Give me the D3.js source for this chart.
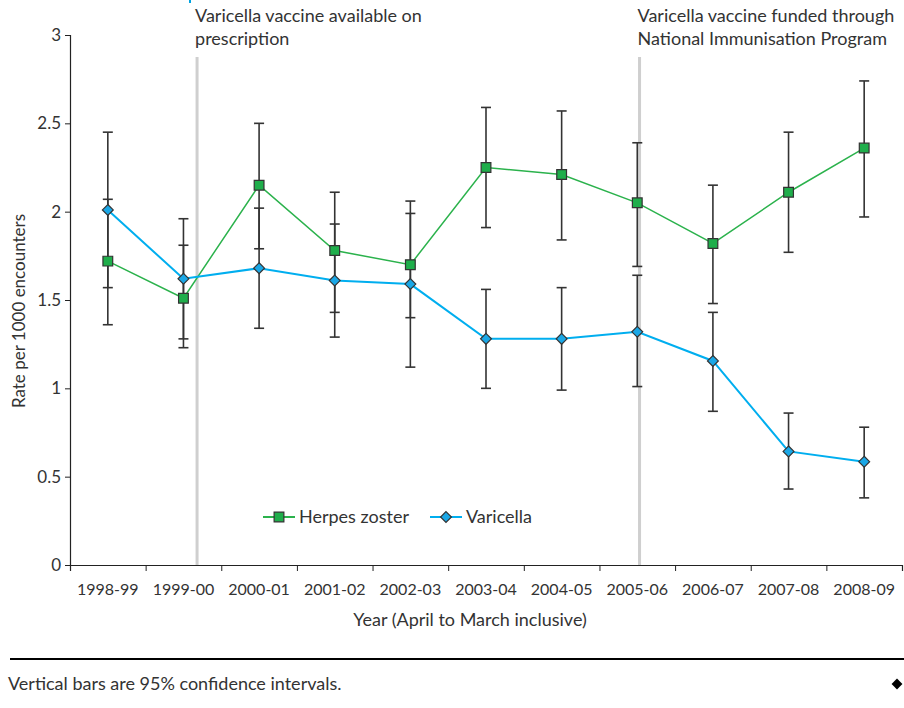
<!DOCTYPE html>
<html>
<head>
<meta charset="utf-8">
<script src="https://cdn.jsdelivr.net/npm/d3@7"></script>
<style>
  body { margin: 0; background: #fff; }
  svg text { font-family: Lato, "Open Sans", sans-serif; fill: #333; }
</style>
</head>
<body>
<div id="chart"></div>
<script>
// categories
var years = ["1998-99", "1999-00", "2000-01", "2001-02", "2002-03", "2003-04",
             "2004-05", "2005-06", "2006-07", "2007-08", "2008-09"];

// herpes zoster rate + 95% CI
var hzRate = [1.72, 1.51, 2.15, 1.78, 1.70, 2.25, 2.21, 2.05, 1.82, 2.11, 2.36];
var hzLow  = [1.36, 1.23, 1.79, 1.43, 1.40, 1.91, 1.84, 1.69, 1.48, 1.77, 1.97];
var hzHigh = [2.07, 1.81, 2.50, 2.11, 1.99, 2.59, 2.57, 2.39, 2.15, 2.45, 2.74];

// varicella rate + 95% CI
var varRate = [2.01, 1.62, 1.68, 1.61, 1.59, 1.28, 1.28, 1.32, 1.155, 0.643, 0.585];
var varLow  = [1.57, 1.28, 1.34, 1.29, 1.12, 1.00, 0.99, 1.01, 0.87, 0.43, 0.38];
var varHigh = [2.45, 1.96, 2.02, 1.93, 2.06, 1.56, 1.57, 1.64, 1.43, 0.86, 0.78];

var yTicks = [0, 0.5, 1, 1.5, 2, 2.5, 3];

// events, position in year units from start of 1998-99
var eventPos = [1.68, 7.53];
var eventText = [["Varicella vaccine available on", "prescription"],
                 ["Varicella vaccine funded through", "National Immunisation Program"]];

var W = 904, H = 708;
var margin = { top: 35, right: 2, bottom: 143, left: 70 };
var width = W - margin.left - margin.right;
var height = H - margin.top - margin.bottom;

var svg = d3.select("#chart").append("svg")
    .attr("width", W)
    .attr("height", H);

var g = svg.append("g")
    .attr("transform", "translate(" + margin.left + "," + margin.top + ")");

var x = d3.scaleBand().domain(years).range([0, width]);
var xPos = d3.scaleLinear().domain([0, years.length]).range([0, width]);
var y = d3.scaleLinear().domain([0, 3]).range([height, 0]);

function cx(i) { return x(years[i]) + x.bandwidth() / 2; }

// small blue mark at the very top (cut-off header element)
svg.append("rect")
    .attr("x", 189).attr("y", 0)
    .attr("width", 2).attr("height", 3)
    .attr("fill", "#00a3e0");

// event lines
g.selectAll(".event")
    .data(eventPos)
    .enter().append("line")
    .attr("class", "event")
    .attr("x1", function(d){ return xPos(d); })
    .attr("x2", function(d){ return xPos(d); })
    .attr("y1", 22)
    .attr("y2", height)
    .attr("stroke", "#cfcfcf")
    .attr("stroke-width", 3);

eventText.forEach(function(lines, k){
    var t = svg.append("text")
        .attr("x", margin.left + xPos(eventPos[k]) - 2)
        .attr("y", 22)
        .attr("font-size", 18);
    lines.forEach(function(s, j){
        t.append("tspan")
            .attr("x", margin.left + xPos(eventPos[k]) - 2)
            .attr("dy", j === 0 ? 0 : 23)
            .text(s);
    });
});

// y axis
var yAxis = g.append("g")
    .call(d3.axisLeft(y).tickValues(yTicks).tickSize(5).tickPadding(4)
        .tickFormat(function(d){ return String(d); }));
yAxis.select(".domain").attr("stroke", "#222").attr("stroke-width", 1.2);
yAxis.selectAll(".tick line").attr("stroke", "#222");
yAxis.selectAll("text").attr("font-size", 17).attr("fill", "#333")
    .style("font-family", "Lato, sans-serif");

// x axis: ticks at band edges
var xAxis = g.append("g")
    .attr("transform", "translate(0," + height + ")")
    .call(d3.axisBottom(xPos).tickValues(d3.range(0, years.length + 1))
        .tickSize(6).tickFormat(""));
xAxis.select(".domain").attr("stroke", "#222").attr("stroke-width", 1.2);
xAxis.selectAll(".tick line").attr("stroke", "#222");

g.selectAll(".xlab")
    .data(years)
    .enter().append("text")
    .attr("class", "xlab")
    .attr("x", function(d, i){ return cx(i); })
    .attr("y", height + 30)
    .attr("text-anchor", "middle")
    .attr("font-size", 16)
    .text(function(d){ return d; });

// axis titles
svg.append("text")
    .attr("transform", "translate(25," + 311 + ") rotate(-90)")
    .attr("text-anchor", "middle")
    .attr("font-size", 17)
    .text("Rate per 1000 encounters");

svg.append("text")
    .attr("x", 470)
    .attr("y", 626)
    .attr("text-anchor", "middle")
    .attr("font-size", 18)
    .text("Year (April to March inclusive)");

// error bars
function errBars(low, high, cls) {
    var eb = g.selectAll("." + cls)
        .data(years)
        .enter().append("g")
        .attr("class", cls)
        .attr("stroke", "#333")
        .attr("stroke-width", 1.6);
    eb.append("line")
        .attr("x1", function(d, i){ return cx(i); })
        .attr("x2", function(d, i){ return cx(i); })
        .attr("y1", function(d, i){ return y(high[i]); })
        .attr("y2", function(d, i){ return y(low[i]); });
    eb.append("line")
        .attr("x1", function(d, i){ return cx(i) - 5; })
        .attr("x2", function(d, i){ return cx(i) + 5; })
        .attr("y1", function(d, i){ return y(high[i]); })
        .attr("y2", function(d, i){ return y(high[i]); });
    eb.append("line")
        .attr("x1", function(d, i){ return cx(i) - 5; })
        .attr("x2", function(d, i){ return cx(i) + 5; })
        .attr("y1", function(d, i){ return y(low[i]); })
        .attr("y2", function(d, i){ return y(low[i]); });
}
errBars(hzLow, hzHigh, "hzErr");
errBars(varLow, varHigh, "varErr");

var line = d3.line()
    .x(function(d, i){ return cx(i); })
    .y(function(d){ return y(d); });

var hzColor = "#2bb24c", hzFill = "#1fae4b";
var varColor = "#00aeef", varFill = "#1aa7e6";

g.append("path")
    .datum(hzRate)
    .attr("fill", "none")
    .attr("stroke", hzColor)
    .attr("stroke-width", 1.5)
    .attr("d", line);

g.append("path")
    .datum(varRate)
    .attr("fill", "none")
    .attr("stroke", varColor)
    .attr("stroke-width", 2)
    .attr("d", line);

var squareSym = d3.symbol().type(d3.symbolSquare).size(95);
var diamondSym = d3.symbol().type(d3.symbolDiamond2).size(75);

g.selectAll(".hzPt")
    .data(hzRate)
    .enter().append("path")
    .attr("class", "hzPt")
    .attr("d", squareSym)
    .attr("transform", function(d, i){ return "translate(" + cx(i) + "," + y(d) + ")"; })
    .attr("fill", hzFill)
    .attr("stroke", "#333")
    .attr("stroke-width", 1.2);

g.selectAll(".varPt")
    .data(varRate)
    .enter().append("path")
    .attr("class", "varPt")
    .attr("d", diamondSym)
    .attr("transform", function(d, i){ return "translate(" + cx(i) + "," + y(d) + ")"; })
    .attr("fill", varFill)
    .attr("stroke", "#333")
    .attr("stroke-width", 1.2);

// legend
var legendItems = [
    { name: "Herpes zoster", color: hzColor, fill: hzFill, sym: squareSym, x: 263 },
    { name: "Varicella", color: varColor, fill: varFill, sym: diamondSym, x: 430 }
];
var lg = svg.selectAll(".legend")
    .data(legendItems)
    .enter().append("g")
    .attr("class", "legend")
    .attr("transform", function(d){ return "translate(" + d.x + ",517)"; });
lg.append("line")
    .attr("x1", 0).attr("x2", 32)
    .attr("stroke", function(d){ return d.color; })
    .attr("stroke-width", 2);
lg.append("path")
    .attr("d", function(d){ return d.sym(); })
    .attr("transform", "translate(16,0)")
    .attr("fill", function(d){ return d.fill; })
    .attr("stroke", "#333")
    .attr("stroke-width", 1.2);
lg.append("text")
    .attr("x", 36)
    .attr("y", 6)
    .attr("font-size", 18)
    .text(function(d){ return d.name; });

// footer
svg.append("line")
    .attr("x1", 10).attr("x2", W)
    .attr("y1", 659).attr("y2", 659)
    .attr("stroke", "#000")
    .attr("stroke-width", 2);

svg.append("text")
    .attr("x", 8)
    .attr("y", 690)
    .attr("font-size", 18)
    .text("Vertical bars are 95% confidence intervals.");

svg.append("path")
    .attr("d", d3.symbol().type(d3.symbolDiamond2).size(75)())
    .attr("transform", "translate(897,684)")
    .attr("fill", "#000");
</script>
</body>
</html>
